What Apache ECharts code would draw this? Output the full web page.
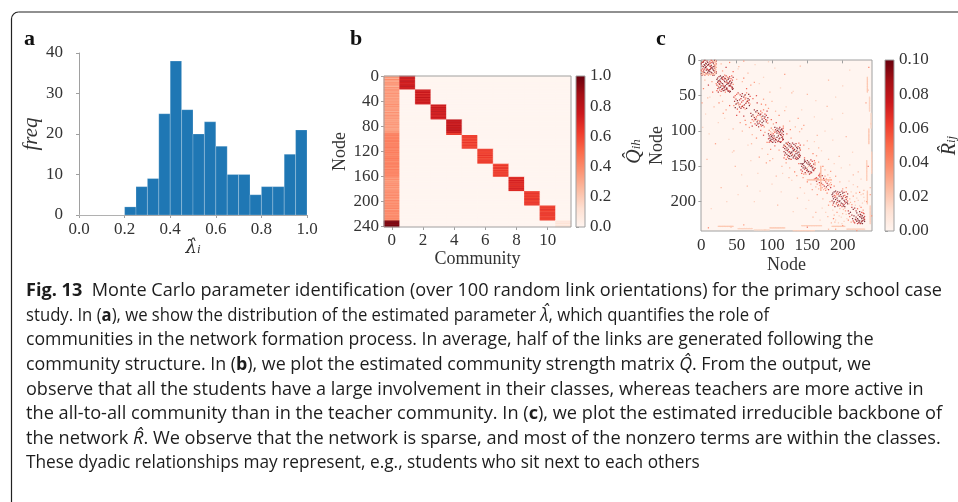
<!DOCTYPE html>
<html><head><meta charset="utf-8">
<script src="https://cdn.jsdelivr.net/npm/echarts@6/dist/echarts.min.js"></script>
<style>html,body{margin:0;padding:0;background:#fff;}#c{width:958px;height:502px;}</style>
</head><body><div id="c"></div>
<script>
// ---------- Panel a: histogram of lambda-hat ----------
const lambdaBinStarts = [0.00,0.05,0.10,0.15,0.20,0.25,0.30,0.35,0.40,0.45,0.50,0.55,0.60,0.65,0.70,0.75,0.80,0.85,0.90,0.95];
const lambdaBinWidth = 0.05;
const lambdaCounts = [0,0,0,0,2,7,9,25,38,26,20,23,17,10,10,5,7,7,15,21];
const lambdaTicks = [0.0,0.2,0.4,0.6,0.8,1.0];
const freqTicks = [0,10,20,30,40];

// ---------- Panel b: community strength matrix Q-hat ----------
const communityLabels = ['0','1','2','3','4','5','6','7','8','9','10','11'];
const communityTicks = [0,2,4,6,8,10];
const nodeTicksB = [0,40,80,120,160,200,240];
const classSizes = [22,24,24,25,22,24,21,23,23,24];
const allToAllStrength = [
0.36,0.31,0.39,0.33,0.28,0.37,0.42,0.32,0.35,0.30,0.38,0.33,0.36,0.40,0.31,0.34,0.32,0.27,0.38,0.35,0.31,0.39,
0.33,0.40,0.29,0.36,0.34,0.31,0.42,0.35,0.30,0.37,0.33,0.39,0.28,0.35,0.38,0.32,0.36,0.30,0.41,0.34,0.31,0.37,0.33,0.39,
0.38,0.32,0.35,0.41,0.30,0.36,0.33,0.39,0.31,0.37,0.34,0.28,0.40,0.35,0.32,0.38,0.30,0.36,0.42,0.33,0.35,0.31,0.39,0.34,
0.31,0.37,0.28,0.34,0.39,0.30,0.35,0.32,0.40,0.29,0.36,0.33,0.38,0.31,0.34,0.27,0.37,0.32,0.35,0.39,0.30,0.40,0.43,0.45,0.41,
0.42,0.46,0.39,0.44,0.41,0.47,0.38,0.43,0.45,0.40,0.48,0.42,0.37,0.44,0.46,0.41,0.43,0.39,0.45,0.42,0.47,0.40,
0.44,0.40,0.46,0.38,0.43,0.41,0.47,0.42,0.39,0.45,0.37,0.43,0.46,0.40,0.42,0.48,0.39,0.44,0.41,0.45,0.38,0.43,0.40,0.46,
0.41,0.45,0.38,0.43,0.47,0.40,0.42,0.36,0.44,0.46,0.39,0.43,0.41,0.48,0.37,0.42,0.45,0.40,0.44,0.38,0.43,
0.36,0.40,0.33,0.38,0.42,0.35,0.31,0.39,0.37,0.34,0.41,0.32,0.38,0.36,0.43,0.33,0.37,0.40,0.35,0.31,0.39,0.36,0.38,
0.40,0.35,0.43,0.38,0.32,0.41,0.37,0.44,0.34,0.39,0.42,0.36,0.40,0.33,0.38,0.45,0.37,0.41,0.35,0.39,0.42,0.36,0.40,
0.38,0.42,0.35,0.40,0.44,0.37,0.33,0.41,0.39,0.45,0.36,0.40,0.43,0.34,0.38,0.42,0.37,0.41,0.46,0.35,0.39,0.43,0.38,0.41,
0.97,0.94,0.99,0.96,0.92,0.98,0.95,1.00,0.93,0.97];
const classStrength = [
0.74,0.79,0.70,0.76,0.81,0.72,0.67,0.77,0.74,0.79,0.71,0.76,0.73,0.69,0.78,0.75,0.77,0.82,0.71,0.74,0.78,0.70,
0.76,0.69,0.80,0.73,0.75,0.78,0.67,0.74,0.79,0.72,0.76,0.70,0.81,0.74,0.71,0.77,0.73,0.79,0.68,0.75,0.78,0.72,0.76,0.70,
0.71,0.77,0.74,0.68,0.79,0.73,0.76,0.70,0.78,0.72,0.75,0.81,0.69,0.74,0.77,0.71,0.79,0.73,0.67,0.76,0.74,0.78,0.70,0.75,
0.80,0.74,0.83,0.77,0.72,0.81,0.76,0.79,0.71,0.82,0.75,0.78,0.73,0.80,0.77,0.84,0.74,0.79,0.76,0.72,0.81,0.69,0.64,0.61,0.66,
0.62,0.58,0.65,0.60,0.63,0.57,0.66,0.61,0.59,0.64,0.56,0.62,0.67,0.60,0.58,0.63,0.61,0.65,0.59,0.62,0.57,0.64,
0.60,0.64,0.58,0.66,0.61,0.63,0.57,0.62,0.65,0.59,0.67,0.61,0.58,0.64,0.62,0.56,0.65,0.60,0.63,0.59,0.66,0.61,0.64,0.58,
0.63,0.59,0.66,0.61,0.57,0.64,0.62,0.68,0.60,0.58,0.65,0.61,0.63,0.56,0.67,0.62,0.59,0.64,0.60,0.66,0.61,
0.70,0.66,0.73,0.68,0.64,0.71,0.75,0.67,0.69,0.72,0.65,0.74,0.68,0.70,0.63,0.73,0.69,0.66,0.71,0.75,0.67,0.70,0.68,
0.62,0.67,0.59,0.64,0.70,0.61,0.65,0.58,0.68,0.63,0.60,0.66,0.62,0.69,0.64,0.57,0.65,0.61,0.67,0.63,0.60,0.66,0.62,
0.64,0.60,0.67,0.62,0.58,0.65,0.69,0.61,0.63,0.57,0.66,0.62,0.59,0.68,0.64,0.60,0.65,0.61,0.56,0.67,0.63,0.59,0.64,0.61];
const teacherCommunityStrength = [0.08,0.10,0.06,0.09,0.12,0.07,0.05,0.11,0.08,0.09];
const qTicks = [0.0,0.2,0.4,0.6,0.8,1.0];

// ---------- Panel c: irreducible backbone R-hat (upper triangle, symmetric) ----------
const nodeTicksC = [0,50,100,150,200];
const rTicks = [0.00,0.02,0.04,0.06,0.08,0.10];
const backboneLinks = [
// class 1
[0,5,.09],[0,14,.06],[0,19,.1],[1,8,.08],[1,16,.05],[1,21,.09],[2,3,.1],[2,12,.07],[2,18,.04],[3,9,.1],[3,15,.08],[3,20,.03],[4,6,.09],[4,13,.06],[4,17,.1],[5,11,.08],[5,21,.07],[6,10,.1],[6,18,.05],[7,9,.09],[7,14,.1],[7,20,.06],[8,12,.08],[8,19,.1],[9,13,.07],[9,17,.09],[10,15,.1],[10,21,.04],[11,14,.09],[11,19,.08],[12,16,.1],[13,20,.06],[14,17,.09],[15,18,.1],[16,21,.08],[17,19,.07],[1,3,.06],[5,7,.1],[12,13,.09],[18,21,.1],
// class 2
[22,27,.1],[22,35,.08],[22,43,.06],[23,25,.09],[23,31,.1],[23,40,.07],[24,29,.1],[24,37,.05],[24,45,.09],[25,33,.08],[25,39,.1],[26,28,.1],[26,34,.09],[26,42,.06],[27,30,.08],[27,38,.1],[28,32,.09],[28,44,.07],[29,36,.1],[29,41,.08],[30,33,.1],[30,40,.09],[31,35,.06],[31,43,.1],[32,37,.08],[32,39,.1],[33,38,.09],[34,36,.1],[34,45,.05],[35,41,.09],[36,40,.1],[37,42,.08],[38,44,.1],[39,43,.07],[40,45,.09],[41,44,.1],[25,30,.06],[27,36,.04],[33,42,.09],[36,39,.08],
// class 3
[46,52,.08],[46,64,.05],[47,58,.09],[48,50,.06],[48,67,.1],[49,55,.08],[50,61,.04],[51,57,.1],[51,69,.07],[52,60,.09],[53,63,.05],[54,56,.08],[54,66,.1],[55,62,.06],[56,68,.09],[57,59,.07],[58,65,.1],[59,64,.05],[60,67,.08],[61,63,.09],[62,69,.04],[64,68,.1],[47,53,.03],[57,66,.06],[49,62,.1],
// class 4
[70,75,.09],[70,88,.05],[71,79,.1],[72,84,.06],[72,93,.08],[73,77,.1],[74,86,.04],[75,81,.09],[76,90,.07],[77,83,.1],[78,80,.06],[78,92,.08],[79,87,.1],[80,85,.05],[81,94,.09],[82,89,.07],[83,86,.1],[84,91,.08],[85,93,.06],[86,88,.1],[87,92,.09],[89,94,.05],[74,79,.03],[80,90,.1],[76,84,.08],
// class 5
[95,104,.1],[95,111,.08],[96,107,.09],[96,116,.06],[97,110,.1],[97,114,.09],[98,105,.08],[98,113,.1],[99,108,.1],[99,115,.07],[100,106,.09],[100,112,.1],[101,109,.08],[101,116,.1],[102,104,.06],[102,111,.09],[103,107,.1],[103,114,.08],[104,110,.07],[105,112,.1],[105,116,.09],[106,113,.08],[107,109,.1],[108,115,.06],[109,114,.1],[110,111,.09],[111,115,.08],[112,116,.1],[113,115,.07],[96,99,.05],[98,101,.03],[100,103,.04],
// class 6
[117,120,.1],[117,129,.09],[117,138,.06],[118,125,.1],[118,134,.08],[119,122,.09],[119,131,.1],[120,127,.08],[120,140,.07],[121,124,.1],[121,133,.09],[122,128,.1],[122,137,.06],[123,126,.09],[123,135,.1],[124,130,.08],[124,139,.1],[125,129,.07],[125,136,.1],[126,132,.09],[127,131,.1],[127,140,.08],[128,135,.1],[129,133,.06],[130,138,.1],[131,136,.09],[132,134,.1],[133,139,.08],[134,137,.1],[135,140,.09],[136,138,.07],[137,139,.1],[118,121,.05],[126,140,.04],[128,130,.1],
// class 7
[141,146,.1],[141,155,.08],[142,150,.09],[142,160,.06],[143,147,.1],[143,157,.07],[144,152,.1],[145,149,.09],[145,161,.05],[146,154,.08],[147,151,.1],[147,159,.09],[148,153,.1],[149,156,.07],[150,155,.1],[151,158,.08],[152,157,.1],[153,161,.09],[154,160,.06],[155,158,.1],[156,159,.08],[148,161,.04],[144,146,.1],[150,152,.03],
// class 8
[162,167,.07],[162,179,.03],[163,171,.09],[164,175,.04],[165,168,.1],[166,182,.03],[167,173,.08],[168,177,.05],[169,184,.03],[170,174,.09],[171,180,.04],[172,176,.06],[173,183,.03],[174,178,.08],[175,181,.04],[176,184,.05],[177,179,.09],[178,182,.03],[163,166,.06],[180,183,.08],
// class 9
[185,190,.1],[185,199,.08],[186,193,.09],[186,205,.06],[187,196,.1],[187,202,.09],[188,191,.07],[188,200,.1],[189,194,.08],[189,207,.09],[190,197,.1],[191,203,.06],[192,195,.1],[192,201,.09],[193,198,.08],[193,206,.1],[194,204,.07],[195,200,.09],[196,199,.1],[197,205,.08],[198,202,.1],[199,207,.06],[200,203,.09],[201,206,.1],[202,204,.08],[203,207,.1],[190,192,.05],[195,206,.04],[186,188,.1],
// class 10
[208,213,.08],[208,226,.05],[209,217,.09],[210,221,.06],[211,215,.1],[212,229,.04],[213,219,.09],[214,224,.1],[215,227,.07],[216,220,.1],[217,230,.08],[218,225,.1],[219,222,.09],[220,228,.1],[221,231,.08],[222,226,.1],[223,229,.09],[224,227,.1],[225,231,.07],[226,230,.1],[227,228,.09],[228,231,.1],[219,226,.08],[221,224,.1],[223,230,.09],[216,229,.06],
// classes 9-10
[186,212,.02],[188,219,.03],[190,226,.02],[192,215,.04],[194,230,.02],[196,210,.03],[198,222,.02],[200,217,.03],[202,228,.02],[204,213,.04],[206,224,.02],[189,229,.03],[195,220,.02],[201,211,.03],[205,218,.02],[187,224,.05],[199,231,.02],[203,209,.03],
// scattered
[3,40,.05],[5,28,.03],[10,35,.08],[12,52,.02],[15,30,.04],[18,66,.03],[2,95,.02],[8,140,.03],[14,210,.02],[20,118,.04],[6,76,.02],[25,60,.05],[30,58,.03],[33,82,.02],[40,64,.06],[44,130,.02],[28,180,.03],[36,200,.02],[42,236,.03],[50,78,.07],[55,88,.04],[58,100,.03],[62,85,.05],[66,120,.02],[48,150,.03],[52,190,.02],[60,79,.08],[68,95,.04],[72,105,.03],[78,110,.05],[84,99,.06],[90,102,.04],[86,125,.03],[80,160,.02],[92,145,.04],[75,200,.02],[88,106,.07],[94,133,.03],[98,126,.05],[104,121,.06],[110,127,.04],[114,150,.03],[100,175,.02],[108,205,.03],[116,123,.08],[120,145,.04],[125,152,.03],[132,158,.05],[138,146,.06],[128,170,.02],[136,195,.03],[144,166,.04],[150,172,.05],[155,175,.03],[160,168,.06],[148,210,.02],[158,222,.03],[164,190,.04],[172,196,.03],[178,188,.05],[182,200,.04],[176,215,.02],[184,230,.03],[168,226,.02],[1,60,.04],[11,104,.02],[16,45,.06],[21,33,.05],[27,50,.03],[35,70,.04],[39,112,.02],[46,128,.03],[57,162,.02],[65,178,.03],[70,142,.02],[83,185,.02],[97,142,.04],[106,164,.03],[113,186,.02],[130,214,.02],[140,180,.03],[152,198,.02],[162,215,.03],[180,205,.04],[9,53,.03],[24,88,.02],[31,75,.04],[45,97,.03],[54,73,.06],[63,91,.05],[71,118,.03],[82,137,.04],[93,116,.05],[101,139,.03],[115,160,.02],[124,166,.03],[135,163,.04],[146,188,.02],[157,183,.04],[171,209,.02],[179,221,.03],[190,239,.04],
[10,237,.05],[60,233,.04],[90,240,.03],[150,236,.06],[200,234,.05],[220,241,.04],[180,239,.03]
];
// light runs of links: [node, first node, last node, value]
const linkRuns = [[235,24,45,.022],[238,52,72,.018],[237,97,118,.022],[234,142,170,.02],[235,185,203,.022],[239,206,231,.02],[240,75,96,.015],[241,130,160,.018],[20,0,19,.022],[169,150,184,.026]];

const reds = ['#fff5f0','#fee0d2','#fcbba1','#fc9272','#fb6a4a','#ef3b2c','#cb181d','#a50f15','#67000d'];

// ---------- build series data ----------
const histData = lambdaBinStarts.map((s,i)=>[s, s+lambdaBinWidth, lambdaCounts[i]]);
const nNodes = allToAllStrength.length;
const nodeLabels = allToAllStrength.map((_,i)=>String(i));
const nodeClass = [];
classSizes.forEach((sz,k)=>{ for(let t=0;t<sz;t++) nodeClass.push(k+1); });
const heatB = [];
for (let r=0;r<nNodes;r++){
  for (let c=0;c<communityLabels.length;c++){
    let v = 0;
    if (c===0) v = allToAllStrength[r];
    else if (r < nodeClass.length && nodeClass[r]===c) v = classStrength[r];
    else if (r >= nodeClass.length && c===11) v = teacherCommunityStrength[r-nodeClass.length];
    heatB.push([c,r,v]);
  }
}
const cellsC = [];
backboneLinks.forEach(([i,j,v])=>{ cellsC.push([j,i,v]); cellsC.push([i,j,v]); });
linkRuns.forEach(([t,a,b,v])=>{ for(let k=a;k<=b;k++){ cellsC.push([k,t,v]); cellsC.push([t,k,v]); } });

// ---------- styles ----------
const SERIF = '"Liberation Serif","Times New Roman",serif';
const DSERIF = '"DejaVu Serif",serif';
const tickText = {fontFamily:SERIF, fontSize:17, color:'#333'};
const spine = '#a0a0a0';
const nameStyle = {fontFamily:SERIF, fontSize:18, color:'#333'};
function mathRich(font, size){
  return {fontFamily:font, fontSize:size, color:'#333', fontStyle:'italic',
    rich:{m:{fontFamily:font,fontSize:size,fontStyle:'italic',color:'#333',padding:[0,0,4,0]},
          s:{fontFamily:SERIF,fontSize:13,fontStyle:'italic',color:'#333'}}};
}
function cbGradient(){
  const stops=[]; for(let i=reds.length-1;i>=0;i--) stops.push({offset:(reds.length-1-i)/(reds.length-1), color:reds[i]});
  return {type:'linear', x:0, y:0, x2:0, y2:1, colorStops:stops, global:false};
}
function colorbarItem(params, api){
  const p0 = api.coord([api.value(0), api.value(3)]);
  const p1 = api.coord([api.value(1), api.value(2)]);
  return {type:'rect', shape:{x:p0[0], y:p0[1], width:p1[0]-p0[0], height:p1[1]-p0[1]},
          style:{fill:cbGradient(), stroke:spine, lineWidth:1}};
}

// ---------- caption ----------
const CAP_FONT = '"Open Sans","Noto Sans",sans-serif';
const CAP_SIZE = 18.5;
const captionLines = [
 '{b|Fig. 13}  Monte Carlo parameter identification (over 100 random link orientations) for the primary school case',
 'study. In ({b|a}), we show the distribution of the estimated parameter {i|λ\u0302}, which quantifies the role of',
 'communities in the network formation process. In average, half of the links are generated following the',
 'community structure. In ({b|b}), we plot the estimated community strength matrix {i|Q\u0302}. From the output, we',
 'observe that all the students have a large involvement in their classes, whereas teachers are more active in',
 'the all-to-all community than in the teacher community. In ({b|c}), we plot the estimated irreducible backbone of',
 'the network {i|R\u0302}. We observe that the network is sparse, and most of the nonzero terms are within the classes.',
 'These dyadic relationships may represent, e.g., students who sit next to each others'
];
const captionLineEnds = [942, 705, 852, 858, 921, 945, 943, 667];
const mctx = document.createElement('canvas').getContext('2d');
function measureLine(s){
  let w=0; const re=/\{(\w)\|([^}]*)\}|([^{]+)/g; let m;
  while((m=re.exec(s))){
    if(m[3]!==undefined){ mctx.font = CAP_SIZE+'px '+CAP_FONT; w+=mctx.measureText(m[3]).width; }
    else { mctx.font = (m[1]==='b'?'bold ':'italic ')+CAP_SIZE+'px '+CAP_FONT; w+=mctx.measureText(m[2]).width; }
  }
  return w;
}
const capLeft = 26;
const capUniform = (captionLineEnds[0]-capLeft) / measureLine(captionLines[0]);
const capFill = '#1d1d1d';
const capRich = {b:{fontFamily:CAP_FONT,fontSize:CAP_SIZE,fontWeight:'bold',fill:capFill},
                 i:{fontFamily:CAP_FONT,fontSize:CAP_SIZE,fontStyle:'italic',fill:capFill}};
const frameStyle = {stroke:'#222', lineWidth:1.2, fill:null};
const letterStyle = {fontFamily:SERIF, fontSize:22, fontWeight:'bold', fill:'#111', verticalAlign:'middle'};
const graphics = [
  {type:'line', shape:{x1:11.5, y1:19, x2:11.5, y2:502}, style:frameStyle},
  {type:'line', shape:{x1:18.5, y1:12, x2:958, y2:12}, style:frameStyle},
  {type:'arc', shape:{cx:18.5, cy:19, r:7, startAngle:Math.PI, endAngle:Math.PI*1.5, clockwise:true}, style:frameStyle},
  {type:'text', x:24, y:39, style:{...letterStyle, text:'a'}},
  {type:'text', x:350, y:39, style:{...letterStyle, text:'b'}},
  {type:'text', x:656, y:39, style:{...letterStyle, text:'c'}}
];
captionLines.forEach((t,i)=>{
  const fit = (captionLineEnds[i]-capLeft) / measureLine(t);
  const sx = 0.5*(capUniform + fit);
  graphics.push({type:'text', x:capLeft, y:291 + i*24.6, scaleX:sx, originX:0,
    style:{text:t, rich:capRich, fontFamily:CAP_FONT, fontSize:CAP_SIZE, fill:capFill, verticalAlign:'middle', align:'left'}});
});

const chart = echarts.init(document.getElementById('c'), null, {renderer:'canvas'});
const gridBase = {outerBoundsMode:'none', containLabel:false};
chart.setOption({
  animation:false,
  backgroundColor:'#fff',
  graphic: graphics,
  grid:[
    {...gridBase, left:79, top:53, width:228, height:162},
    {...gridBase, left:384, top:76, width:187, height:151, show:true, borderColor:spine, borderWidth:1, backgroundColor:'transparent', z:5},
    {...gridBase, left:576, top:76, width:9, height:151},
    {...gridBase, left:701, top:60, width:171, height:171, show:true, borderColor:spine, borderWidth:1, backgroundColor:reds[0]},
    {...gridBase, left:885, top:60, width:9, height:171}
  ],
  xAxis:[
    {gridIndex:0, type:'value', min:0, max:1,
     axisLine:{show:true, lineStyle:{color:spine, width:1}},
     axisTick:{show:true, length:3, lineStyle:{color:spine}, customValues:lambdaTicks},
     axisLabel:{...tickText, margin:6, customValues:lambdaTicks, formatter:v=>v.toFixed(1)},
     splitLine:{show:false},
     name:'{m|λ\u0302}{s|i}', nameLocation:'middle', nameGap:18, nameTextStyle:mathRich(DSERIF, 18)},
    {gridIndex:1, type:'category', data:communityLabels,
     axisLine:{show:false},
     axisTick:{show:true, length:3, alignWithLabel:true, lineStyle:{color:spine}, interval:(i)=>communityTicks.includes(i)},
     axisLabel:{...tickText, margin:5, interval:(i)=>communityTicks.includes(i)},
     name:'Community', nameLocation:'middle', nameGap:20, nameTextStyle:nameStyle},
    {gridIndex:2, type:'value', min:0, max:1, show:false},
    {gridIndex:3, type:'value', min:-0.5, max:241.5,
     axisLine:{show:false},
     axisTick:{show:true, length:3, lineStyle:{color:spine}, customValues:nodeTicksC},
     axisLabel:{...tickText, margin:6, customValues:nodeTicksC},
     splitLine:{show:false},
     name:'Node', nameLocation:'middle', nameGap:25, nameTextStyle:nameStyle},
    {gridIndex:4, type:'value', min:0, max:1, show:false}
  ],
  yAxis:[
    {gridIndex:0, type:'value', min:0, max:40, interval:10, offset:11,
     axisLine:{show:true, lineStyle:{color:spine, width:1}},
     axisTick:{show:true, length:3, lineStyle:{color:spine}},
     axisLabel:{...tickText, margin:5},
     splitLine:{show:false},
     name:'freq', nameLocation:'middle', nameGap:23, nameRotate:90,
     nameTextStyle:{fontFamily:SERIF, fontSize:21, fontStyle:'italic', color:'#333'}},
    {gridIndex:1, type:'category', data:nodeLabels, inverse:true,
     axisLine:{show:false},
     axisTick:{show:true, length:3, alignWithLabel:true, lineStyle:{color:spine}, interval:(i)=>nodeTicksB.includes(i)},
     axisLabel:{...tickText, margin:5, interval:(i)=>nodeTicksB.includes(i)},
     name:'Node', nameLocation:'middle', nameGap:31, nameRotate:90, nameTextStyle:nameStyle},
    {gridIndex:2, type:'value', min:0, max:1, position:'right',
     axisLine:{show:false},
     axisTick:{show:true, length:3, lineStyle:{color:spine}, customValues:qTicks},
     axisLabel:{...tickText, margin:5, customValues:qTicks, formatter:v=>v.toFixed(1)},
     splitLine:{show:false},
     name:'{m|Q\u0302}{s|ih}', nameLocation:'middle', nameGap:40, nameRotate:90, nameTextStyle:mathRich(SERIF, 20)},
    {gridIndex:3, type:'value', min:-0.5, max:241.5, inverse:true,
     axisLine:{show:false},
     axisTick:{show:true, length:3, lineStyle:{color:spine}, customValues:nodeTicksC},
     axisLabel:{...tickText, margin:5, customValues:nodeTicksC},
     splitLine:{show:false},
     name:'Node', nameLocation:'middle', nameGap:31, nameRotate:90, nameTextStyle:nameStyle},
    {gridIndex:4, type:'value', min:0, max:0.1, position:'right',
     axisLine:{show:false},
     axisTick:{show:true, length:3, lineStyle:{color:spine}, customValues:rTicks},
     axisLabel:{...tickText, margin:5, customValues:rTicks, formatter:v=>v.toFixed(2)},
     splitLine:{show:false},
     name:'{m|R\u0302}{s|ij}', nameLocation:'middle', nameGap:46, nameRotate:90, nameTextStyle:mathRich(SERIF, 20)}
  ],
  visualMap:[
    {type:'continuous', show:false, seriesIndex:1, dimension:2, min:0, max:1, inRange:{color:reds}},
    {type:'continuous', show:false, seriesIndex:4, dimension:2, min:0, max:0.1, inRange:{color:reds}}
  ],
  series:[
    {type:'custom', xAxisIndex:0, yAxisIndex:0, data:histData, encode:{x:[0,1], y:2},
     renderItem:(params, api)=>{
       const p0 = api.coord([api.value(0), api.value(2)]);
       const p1 = api.coord([api.value(1), 0]);
       return {type:'rect', shape:{x:p0[0], y:p0[1], width:p1[0]-p0[0], height:p1[1]-p0[1]},
               style:{fill:'#1f77b4', stroke:'rgba(255,255,255,0.35)', lineWidth:0.6}};
     }},
    {type:'heatmap', xAxisIndex:1, yAxisIndex:1, data:heatB, progressive:0, emphasis:{disabled:true}},
    {type:'custom', xAxisIndex:2, yAxisIndex:2, data:[[0,1,qTicks[0],qTicks[qTicks.length-1]]], encode:{x:[0,1], y:[2,3]}, renderItem:colorbarItem},
    {type:'custom', xAxisIndex:4, yAxisIndex:4, data:[[0,1,rTicks[0],rTicks[rTicks.length-1]]], encode:{x:[0,1], y:[2,3]}, renderItem:colorbarItem},
    {type:'scatter', xAxisIndex:3, yAxisIndex:3, data:cellsC, symbol:'rect', symbolSize:1.25, progressive:0}
  ]
});
</script></body></html>
